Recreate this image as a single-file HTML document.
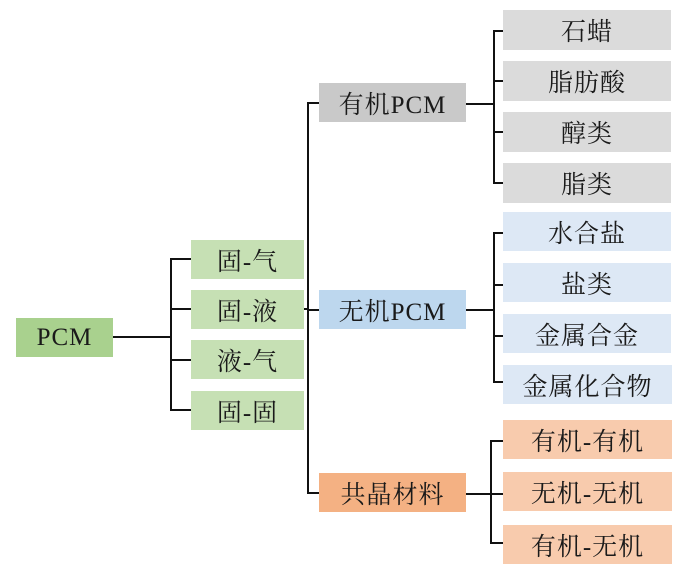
<!DOCTYPE html>
<html><head><meta charset="utf-8"><style>
body{margin:0;width:692px;height:584px;background:#fff;position:relative;overflow:hidden;font-family:"Liberation Serif","Noto Serif CJK SC",serif;}
.b{position:absolute;display:flex;align-items:center;justify-content:center;font-size:25px;color:#1a1a1a;letter-spacing:1px;}
.g{background:#c6e0b4}.gd{background:#a9d18e}.gr{background:#dbdbdb}.gr2{background:#c9c9c9}
.bl{background:#dde8f5}.bd{background:#bdd7ee}.o{background:#f8cbad}.od{background:#f4b183}
svg{position:absolute;left:0;top:0}
</style></head><body>
<svg width="692" height="584"><g stroke="#111" stroke-width="2" fill="none">
<path d="M113 337H171M191 259H171V410H191M171 309H191M171 360H191"/>
<path d="M304 309H308M319 103H308V493H319M308 310H319"/>
<path d="M466 104H494M503 31H494V183H503M494 81H503M494 132H503"/>
<path d="M466 310H494M503 233H494V382H503M494 285H503M494 336H503"/>
<path d="M466 494H503M503 441H491V543H503"/>
</g></svg>
<div class="b gd" style="left:16px;top:318px;width:97px;height:39px">PCM</div>
<div class="b g" style="left:191px;top:240px;width:113px;height:39px">固-气</div>
<div class="b g" style="left:191px;top:290px;width:113px;height:39px">固-液</div>
<div class="b g" style="left:191px;top:340px;width:113px;height:39px">液-气</div>
<div class="b g" style="left:191px;top:391px;width:113px;height:39px">固-固</div>
<div class="b gr2" style="left:319px;top:83px;width:147px;height:39px">有机PCM</div>
<div class="b bd" style="left:319px;top:290px;width:147px;height:39px">无机PCM</div>
<div class="b od" style="left:319px;top:473px;width:147px;height:39px">共晶材料</div>
<div class="b gr" style="left:503px;top:10px;width:168px;height:40px">石蜡</div>
<div class="b gr" style="left:503px;top:61px;width:168px;height:40px">脂肪酸</div>
<div class="b gr" style="left:503px;top:112px;width:168px;height:40px">醇类</div>
<div class="b gr" style="left:503px;top:163px;width:168px;height:40px">脂类</div>
<div class="b bl" style="left:503px;top:212px;width:168px;height:39px">水合盐</div>
<div class="b bl" style="left:503px;top:263px;width:168px;height:39px">盐类</div>
<div class="b bl" style="left:503px;top:314px;width:168px;height:39px">金属合金</div>
<div class="b bl" style="left:503px;top:365px;width:169px;height:39px">金属化合物</div>
<div class="b o" style="left:503px;top:420px;width:169px;height:39px">有机-有机</div>
<div class="b o" style="left:503px;top:472px;width:169px;height:39px">无机-无机</div>
<div class="b o" style="left:503px;top:525px;width:169px;height:39px">有机-无机</div>
</body></html>
